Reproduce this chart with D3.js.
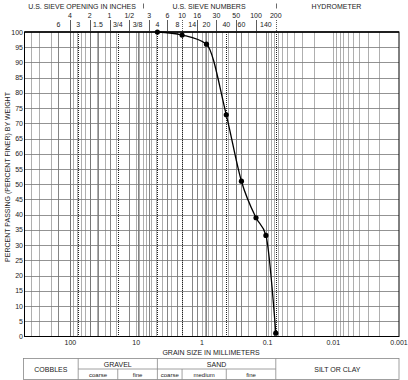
<!DOCTYPE html>
<html>
<head>
<meta charset="utf-8">
<script src="https://cdn.jsdelivr.net/npm/d3@7"></script>
<style>
  body { margin: 0; background: #fff; }
  svg { display: block; font-family: "Liberation Sans", Arial, sans-serif; }
</style>
</head>
<body>
<svg width="408" height="380"></svg>
<script>
// test results
var grainSize = [4.75, 2.0, 0.85, 0.425, 0.25, 0.15, 0.106, 0.075];
var percentPassing = [100, 99, 96, 72.8, 51, 39, 33.2, 1.1];

// sieve series along the top
var sieveLabels = ["6", "4", "3", "2", "1.5", "1", "3/4", "1/2", "3/8", "3", "4", "6", "8", "10", "14", "16", "20", "30", "40", "50", "60", "100", "140", "200"];
var sieveSizes = [152.4, 101.6, 76.2, 50.8, 38.1, 25.4, 19.05, 12.7, 9.525, 6.35, 4.75, 3.35, 2.36, 2.0, 1.4, 1.18, 0.85, 0.6, 0.425, 0.3, 0.25, 0.15, 0.106, 0.075];

// soil class limits (mm)
var classLimits = [76.2, 19.05, 4.75, 2.0, 0.425, 0.075];

var xTicks = [100, 10, 1, 0.1, 0.01, 0.001];
var yTicks = d3.range(0, 101, 5);

let svg = d3.select("svg");

let x = d3.scaleLog().domain([500, 0.001]).range([24.5, 399]);
let y = d3.scaleLinear().domain([0, 100]).range([336.5, 32]);

// minor log grid
let minor = [];
for (let k = -3; k <= 2; k++) {
  for (let m = 1; m <= 9; m++) {
    let v = m * Math.pow(10, k);
    if (v < 500 && v > 0.001) minor.push(v);
  }
}

let grid = svg.append("g").attr("id", "grid");

grid.selectAll("line.v")
  .data(minor)
  .enter().append("line")
  .attr("class", "v")
  .attr("x1", d => Math.round(x(d)) + 0.5)
  .attr("x2", d => Math.round(x(d)) + 0.5)
  .attr("y1", y(100))
  .attr("y2", y(0))
  .attr("stroke", "#9a9a9a")
  .attr("stroke-width", 0.8);

grid.selectAll("line.s")
  .data(sieveSizes.filter(d => classLimits.indexOf(d) < 0))
  .enter().append("line")
  .attr("class", "s")
  .attr("x1", d => Math.round(x(d)) + 0.5)
  .attr("x2", d => Math.round(x(d)) + 0.5)
  .attr("y1", y(100))
  .attr("y2", y(0))
  .attr("stroke", "#666")
  .attr("stroke-width", 0.8);

grid.selectAll("line.h")
  .data(yTicks.slice(1, -1))
  .enter().append("line")
  .attr("class", "h")
  .attr("x1", x(500))
  .attr("x2", x(0.001))
  .attr("y1", d => Math.round(y(d)) + 0.5)
  .attr("y2", d => Math.round(y(d)) + 0.5)
  .attr("stroke", "#777")
  .attr("stroke-width", 0.8);

// class limit lines (dotted)
grid.selectAll("line.c")
  .data(classLimits)
  .enter().append("line")
  .attr("class", "c")
  .attr("x1", d => Math.round(x(d)) + 0.5)
  .attr("x2", d => Math.round(x(d)) + 0.5)
  .attr("y1", y(100))
  .attr("y2", y(0))
  .attr("stroke", "#222")
  .attr("stroke-width", 1)
  .attr("stroke-dasharray", "1,1");

// frame
svg.append("rect")
  .attr("x", x(500))
  .attr("y", y(100))
  .attr("width", x(0.001) - x(500))
  .attr("height", y(0) - y(100))
  .attr("fill", "none")
  .attr("stroke", "#000")
  .attr("stroke-width", 1);
svg.append("line")
  .attr("x1", x(500)).attr("x2", x(0.001))
  .attr("y1", y(100)).attr("y2", y(100))
  .attr("stroke", "#000").attr("stroke-width", 1.6);

// y axis labels
svg.append("g")
  .selectAll("text")
  .data(yTicks)
  .enter().append("text")
  .attr("x", 23)
  .attr("y", d => y(d) + 2.5)
  .attr("text-anchor", "end")
  .attr("font-size", 7)
  .attr("fill", "#222")
  .text(d => d);

svg.append("text")
  .attr("transform", "translate(10,177) rotate(-90)")
  .attr("text-anchor", "middle")
  .attr("font-size", 7)
  .attr("fill", "#222")
  .text("PERCENT PASSING (PERCENT FINER) BY WEIGHT");

// x axis labels
svg.append("g")
  .selectAll("text")
  .data(xTicks)
  .enter().append("text")
  .attr("x", d => x(d))
  .attr("y", 344.5)
  .attr("text-anchor", "middle")
  .attr("font-size", 7)
  .attr("fill", "#222")
  .text(d => d);

svg.append("text")
  .attr("x", 211)
  .attr("y", 354.5)
  .attr("text-anchor", "middle")
  .attr("font-size", 7)
  .attr("fill", "#222")
  .text("GRAIN SIZE IN MILLIMETERS");

// top headers
let head = svg.append("g").attr("font-size", 7).attr("fill", "#222").attr("text-anchor", "middle");
head.append("text").attr("x", 82).attr("y", 8.5).text("U.S. SIEVE OPENING IN INCHES");
head.append("text").attr("x", 209).attr("y", 8.5).text("U.S. SIEVE NUMBERS");
head.append("text").attr("x", 336.5).attr("y", 8.5).text("HYDROMETER");

[Math.sqrt(9.525 * 6.35), 0.075].forEach(v => {
  svg.append("line")
    .attr("x1", Math.round(x(v)) + 0.5).attr("x2", Math.round(x(v)) + 0.5)
    .attr("y1", 3.5).attr("y2", 8.5)
    .attr("stroke", "#444").attr("stroke-width", 0.8);
});

let sieves = sieveSizes.map((s, i) => ({ size: s, label: sieveLabels[i], upper: i % 2 == 1 }));

head.selectAll("text.sv")
  .data(sieves)
  .enter().append("text")
  .attr("class", "sv")
  .attr("x", d => x(d.size))
  .attr("y", d => d.upper ? 17.5 : 26.5)
  .text(d => d.label);

svg.append("g")
  .selectAll("line")
  .data(sieves.filter(d => d.upper))
  .enter().append("line")
  .attr("x1", d => Math.round(x(d.size)) + 0.5)
  .attr("x2", d => Math.round(x(d.size)) + 0.5)
  .attr("y1", 20)
  .attr("y2", 31)
  .attr("stroke", "#333")
  .attr("stroke-width", 0.8)
  .attr("stroke-dasharray", d => classLimits.indexOf(d.size) >= 0 ? "1,1" : null);

// curve + points
let pts = grainSize.map((g, i) => [g, percentPassing[i]]);
let line = d3.line()
  .x(d => x(d[0]))
  .y(d => y(d[1]))
  .curve(d3.curveMonotoneX);

svg.append("path")
  .datum(pts)
  .attr("d", line)
  .attr("fill", "none")
  .attr("stroke", "#000")
  .attr("stroke-width", 1.3);

svg.append("g")
  .selectAll("circle")
  .data(pts)
  .enter().append("circle")
  .attr("cx", d => x(d[0]))
  .attr("cy", d => y(d[1]))
  .attr("r", 2.6)
  .attr("fill", "#000");

// soil classification table
let tTop = 358.5, tMid = 369, tBot = 379.5;
let tb = svg.append("g").attr("stroke", "#888").attr("stroke-width", 0.8).attr("fill", "none");
tb.append("rect").attr("x", 23.5).attr("y", tTop).attr("width", x(0.001) - 23.5).attr("height", tBot - tTop);
tb.selectAll("line.d")
  .data([76.2, 4.75, 0.075])
  .enter().append("line")
  .attr("x1", d => x(d)).attr("x2", d => x(d))
  .attr("y1", tTop).attr("y2", tBot);
tb.selectAll("line.d2")
  .data([19.05, 2.0, 0.425])
  .enter().append("line")
  .attr("x1", d => x(d)).attr("x2", d => x(d))
  .attr("y1", tMid).attr("y2", tBot);
tb.append("line").attr("x1", x(76.2)).attr("x2", x(0.075)).attr("y1", tMid).attr("y2", tMid);

let tt = svg.append("g").attr("fill", "#222").attr("text-anchor", "middle");
let mid = (a, b) => (x(a) + x(b)) / 2;
tt.append("text").attr("x", (23.5 + x(76.2)) / 2).attr("y", 371.5).attr("font-size", 7).text("COBBLES");
tt.append("text").attr("x", mid(76.2, 4.75)).attr("y", 366.5).attr("font-size", 7).text("GRAVEL");
tt.append("text").attr("x", mid(4.75, 0.075)).attr("y", 366.5).attr("font-size", 7).text("SAND");
tt.append("text").attr("x", (x(0.075) + x(0.001)) / 2).attr("y", 371.5).attr("font-size", 7).text("SILT OR CLAY");
[[76.2, 19.05, "coarse"], [19.05, 4.75, "fine"], [4.75, 2.0, "coarse"], [2.0, 0.425, "medium"], [0.425, 0.075, "fine"]]
  .forEach(c => {
    tt.append("text").attr("x", mid(c[0], c[1])).attr("y", 376.5).attr("font-size", 6).text(c[2]);
  });
</script>
</body>
</html>
